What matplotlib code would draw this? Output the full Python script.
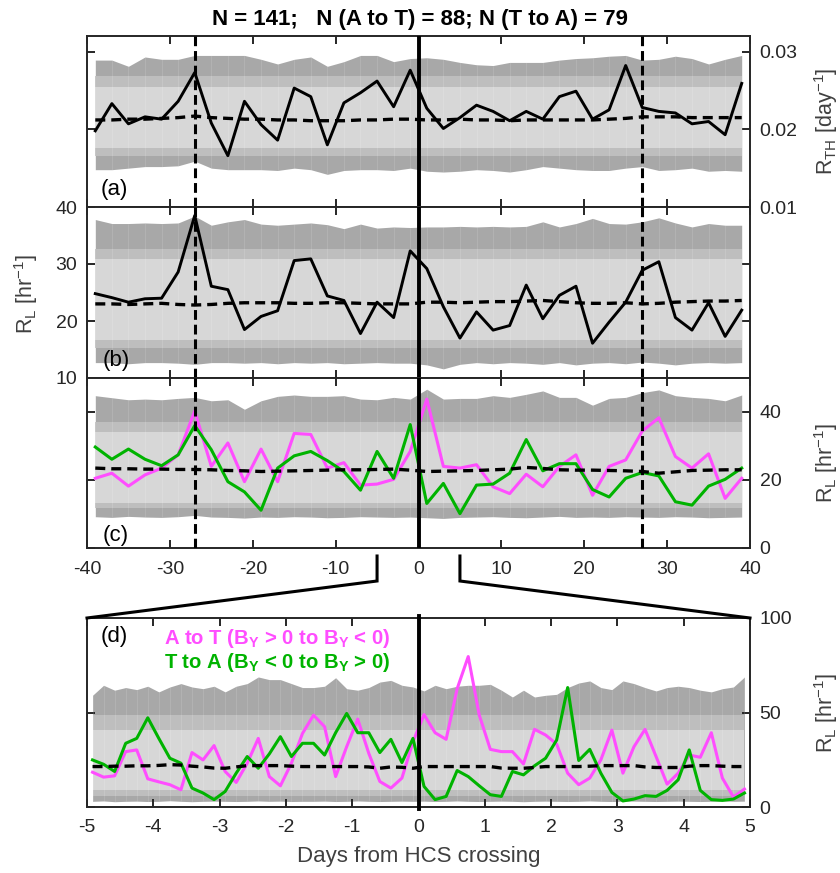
import numpy as np
import matplotlib
matplotlib.use("Agg")
import matplotlib.pyplot as plt
from matplotlib.lines import Line2D

plt.rcParams['font.family'] = ['Liberation Sans', 'DejaVu Sans']
plt.rcParams['mathtext.fontset'] = 'custom'
plt.rcParams['mathtext.rm'] = 'Liberation Sans'
plt.rcParams['mathtext.it'] = 'Liberation Sans:italic'
plt.rcParams['mathtext.bf'] = 'Liberation Sans:bold'
plt.rcParams['axes.unicode_minus'] = False

# ---------------- data ----------------
days = np.arange(-39, 40, 2)                      # 2-day bins, panels a-c
hours = np.arange(-5 + 1/12, 5, 1/6)              # 4-hour bins, panel d

# (a) R_TH
a_line = [0.0198, 0.0233, 0.0207, 0.0216, 0.0213, 0.0236, 0.0273, 0.0208, 0.0166, 0.0236,
          0.0206, 0.0186, 0.0253, 0.0242, 0.0180, 0.0234, 0.0247, 0.0262, 0.0229, 0.0276,
          0.0227, 0.0201, 0.0215, 0.0231, 0.0223, 0.0211, 0.0223, 0.0213, 0.0242, 0.0249,
          0.0213, 0.0225, 0.0282, 0.0228, 0.0223, 0.0221, 0.0207, 0.0210, 0.0193, 0.0259]
a_mean = [0.0212, 0.0212, 0.0213, 0.0213, 0.0214, 0.0215, 0.0217, 0.0215, 0.0214, 0.0213,
          0.0213, 0.0212, 0.0212, 0.0211, 0.0211, 0.0211, 0.0212, 0.0212, 0.0213, 0.0213,
          0.0212, 0.0212, 0.0213, 0.0212, 0.0212, 0.0211, 0.0212, 0.0212, 0.0212, 0.0212,
          0.0212, 0.0213, 0.0214, 0.0216, 0.0216, 0.0216, 0.0215, 0.0215, 0.0215, 0.0215]
a_top = [0.0289, 0.0289, 0.0281, 0.0293, 0.0290, 0.0290, 0.0295, 0.0295, 0.0295, 0.0295,
         0.0290, 0.0284, 0.0290, 0.0293, 0.0281, 0.0287, 0.0295, 0.0295, 0.0287, 0.0291,
         0.0292, 0.0290, 0.0286, 0.0283, 0.0282, 0.0286, 0.0286, 0.0286, 0.0289, 0.0291,
         0.0292, 0.0294, 0.0295, 0.0289, 0.0290, 0.0294, 0.0291, 0.0284, 0.0290, 0.0295]
a_bot = [0.0148, 0.0148, 0.0150, 0.0152, 0.0152, 0.0153, 0.0159, 0.0150, 0.0148, 0.0148,
         0.0148, 0.0147, 0.0150, 0.0148, 0.0142, 0.0147, 0.0148, 0.0148, 0.0147, 0.0150,
         0.0146, 0.0145, 0.0146, 0.0148, 0.0147, 0.0145, 0.0148, 0.0152, 0.0150, 0.0148,
         0.0147, 0.0147, 0.0150, 0.0152, 0.0147, 0.0148, 0.0150, 0.0146, 0.0147, 0.0146]
a_levels = [0.0268, 0.0255, 0.0176, 0.0165]

# (b) R_L all crossings
b_line = [24.8, 24.1, 23.3, 23.9, 24.0, 28.6, 38.5, 26.1, 25.5, 18.5,
          20.8, 21.8, 30.6, 30.9, 24.4, 23.6, 17.8, 23.3, 20.6, 32.3,
          29.2, 22.5, 17.0, 21.6, 18.4, 19.2, 26.3, 20.4, 24.5, 26.1,
          16.1, 19.8, 23.3, 28.9, 30.4, 20.6, 18.4, 23.2, 17.3, 21.9]
b_mean = [23.0, 23.0, 22.9, 23.0, 23.1, 22.9, 22.8, 22.9, 23.1, 23.2,
          23.2, 23.2, 23.1, 23.1, 23.2, 23.2, 23.1, 23.0, 23.0, 23.0,
          23.3, 23.3, 23.2, 23.3, 23.4, 23.4, 23.5, 23.6, 23.4, 23.2,
          23.1, 23.1, 23.2, 23.0, 23.1, 23.3, 23.4, 23.5, 23.5, 23.6]
b_top = [37.8, 37.1, 37.1, 37.2, 37.1, 37.2, 38.4, 36.8, 37.4, 37.8,
         37.0, 36.8, 37.0, 37.2, 36.9, 36.2, 37.0, 36.3, 36.5, 36.4,
         36.5, 36.5, 36.6, 36.5, 36.6, 36.5, 36.6, 37.4, 36.5, 37.1,
         38.0, 37.1, 37.0, 37.4, 38.1, 37.2, 36.5, 37.1, 36.8, 36.8]
b_bot = [12.7, 12.7, 12.5, 12.7, 12.7, 12.6, 12.4, 12.7, 12.7, 12.6,
         12.7, 12.5, 12.7, 12.6, 12.7, 12.5, 12.6, 12.7, 12.6, 12.6,
         12.3, 11.6, 12.4, 12.7, 12.5, 12.7, 12.6, 12.4, 12.7, 12.3,
         12.6, 12.7, 12.5, 12.8, 12.6, 12.3, 12.6, 12.7, 12.6, 12.7]
b_levels = [32.7, 30.9, 16.7, 15.3]

# (c) R_L split by crossing direction
c_atot = [20.5, 22.0, 18.2, 21.5, 23.5, 27.4, 40.3, 24.0, 30.9, 19.5,
          29.1, 19.5, 33.7, 33.4, 23.5, 25.1, 18.5, 18.8, 20.2, 28.4,
          43.8, 24.0, 23.5, 24.5, 18.0, 16.0, 21.7, 18.0, 24.0, 27.4,
          15.5, 24.0, 25.9, 34.4, 38.3, 26.9, 23.5, 27.7, 14.6, 20.5]
c_ttoa = [29.7, 26.1, 29.1, 26.1, 24.2, 27.4, 36.0, 28.9, 19.5, 16.5,
          11.1, 23.5, 27.1, 28.4, 25.7, 22.5, 17.0, 28.4, 20.5, 36.3,
          13.1, 19.0, 10.1, 18.5, 18.8, 22.0, 31.9, 22.7, 24.8, 24.8,
          17.2, 15.0, 20.5, 22.2, 21.2, 13.6, 12.6, 18.2, 20.2, 23.5]
c_mean = [23.5, 23.3, 23.3, 23.2, 23.2, 23.1, 23.1, 23.0, 22.8, 22.7,
          22.5, 22.6, 22.7, 22.8, 22.9, 23.0, 23.0, 23.1, 23.2, 22.9,
          22.5, 22.6, 22.7, 22.8, 23.0, 23.2, 23.7, 23.4, 23.0, 22.9,
          22.9, 22.8, 22.7, 22.5, 22.0, 22.4, 22.8, 22.9, 23.0, 23.0]
c_top = [44.8, 44.2, 43.6, 43.8, 43.6, 44.0, 44.3, 43.3, 43.6, 40.8,
         43.3, 44.6, 45.0, 44.6, 44.6, 44.8, 43.8, 43.6, 44.3, 43.8,
         46.7, 43.8, 44.0, 44.0, 44.8, 44.3, 45.2, 46.2, 44.3, 44.3,
         42.0, 44.0, 44.3, 45.7, 46.5, 44.8, 44.3, 44.0, 43.3, 45.0]
c_bot = [9.2, 9.0, 9.3, 9.1, 9.0, 9.2, 9.6, 9.1, 9.0, 8.8,
         9.1, 9.0, 9.2, 9.1, 8.9, 9.0, 9.2, 9.1, 9.0, 9.1,
         8.9, 8.7, 9.0, 9.1, 9.2, 9.0, 8.9, 9.1, 9.3, 9.0,
         9.1, 9.0, 9.2, 9.1, 9.0, 9.2, 9.1, 8.9, 9.0, 9.1]
c_levels = [37.0, 34.0, 13.2, 11.8]

# (d) zoom on +-5 days, 4-hour bins
d_atot = [18.4, 15.8, 16.5, 29.3, 30.2, 14.9, 13.3, 11.8, 9.1, 28.8,
          24.9, 32.5, 18.8, 13.0, 23.2, 36.3, 16.1, 11.2, 23.2, 38.9,
          48.6, 42.5, 16.1, 31.9, 46.5, 28.4, 13.5, 10.0, 15.3, 34.5,
          48.9, 39.3, 35.8, 62.6, 79.6, 48.6, 30.5, 29.3, 29.3, 22.8,
          41.1, 38.1, 33.3, 17.9, 11.8, 15.3, 24.9, 40.7, 17.9, 31.9,
          41.1, 26.7, 12.1, 17.9, 27.5, 26.3, 39.3, 15.3, 5.3, 9.5]
d_ttoa = [24.9, 22.6, 18.8, 33.7, 36.3, 47.2, 36.3, 25.8, 23.2, 10.0,
          7.4, 3.9, 8.2, 17.9, 26.7, 20.5, 28.1, 37.2, 26.7, 33.7,
          33.7, 27.5, 39.3, 49.5, 39.3, 39.3, 28.8, 35.8, 23.5, 36.3,
          10.9, 3.9, 5.6, 19.3, 16.1, 11.2, 6.5, 5.6, 18.8, 17.0,
          21.8, 25.8, 35.4, 63.2, 24.6, 30.5, 17.9, 7.7, 3.2, 4.2,
          6.0, 5.6, 8.8, 14.4, 30.2, 8.8, 3.9, 3.5, 4.2, 7.4]
d_mean = [21.4, 21.4, 21.6, 21.6, 21.8, 21.8, 22.0, 22.4, 22.2, 21.6,
          21.2, 20.6, 20.5, 21.2, 21.9, 21.9, 21.9, 21.9, 21.6, 21.4,
          21.4, 21.4, 21.4, 21.4, 21.4, 21.2, 20.5, 21.2, 21.0, 20.5,
          21.4, 21.4, 21.4, 21.4, 21.4, 21.4, 21.4, 20.6, 20.5, 20.5,
          20.9, 21.4, 21.4, 21.4, 21.4, 21.6, 21.9, 21.9, 21.9, 21.9,
          21.2, 20.9, 20.9, 20.9, 21.6, 21.9, 21.9, 21.6, 21.4, 21.4]
d_top = [59.1, 64.4, 61.8, 63.2, 62.1, 63.9, 60.9, 63.5, 65.3, 63.5,
         62.6, 63.9, 60.9, 63.9, 65.3, 68.8, 67.4, 67.4, 65.3, 63.2,
         63.2, 63.9, 68.4, 62.6, 61.8, 63.2, 66.1, 67.0, 64.4, 63.5,
         61.4, 64.4, 62.6, 63.9, 64.4, 64.4, 64.9, 61.8, 58.2, 61.8,
         58.2, 59.1, 59.6, 63.2, 65.6, 66.7, 63.2, 62.1, 66.7, 65.3,
         63.2, 61.4, 63.2, 63.9, 63.2, 61.8, 60.9, 62.6, 63.5, 68.8]
d_bot = [3.0, 3.2, 2.8, 3.0, 3.1, 2.9, 3.0, 3.3, 3.0, 2.8,
         3.0, 3.1, 3.0, 2.9, 3.0, 3.2, 3.0, 3.1, 2.9, 3.0,
         3.0, 3.1, 2.9, 3.0, 3.2, 3.0, 2.9, 3.0, 3.1, 3.0,
         3.1, 2.9, 3.0, 3.2, 3.0, 2.9, 3.0, 3.1, 3.0, 2.8,
         3.0, 3.1, 3.0, 2.9, 3.0, 3.2, 3.0, 2.9, 3.0, 3.1,
         3.0, 2.9, 3.0, 3.1, 3.0, 2.9, 3.0, 3.2, 3.0, 3.1]
d_levels = [48.5, 41.0, 9.0, 6.0]

title = 'N = 141;   N (A to T) = 88; N (T to A) = 79'
atot_label = r'A to T (B$_\mathbf{Y}$ > 0 to B$_\mathbf{Y}$ < 0)'
ttoa_label = r'T to A (B$_\mathbf{Y}$ < 0 to B$_\mathbf{Y}$ > 0)'

# ---------------- style ----------------
DARK, MID, LIGHT = '#a8a8a8', '#bebebe', '#d7d7d7'
PINK, GREEN = '#ff4dff', '#00b300'
AXC = '#262626'
FS = 14

W, H = 840, 873
L, R = 87, 750


def box(top, bottom):
    return [L / W, 1 - bottom / H, (R - L) / W, (bottom - top) / H]


def bands(ax, x, top, bot, levels):
    hi2, hi1, lo1, lo2 = levels
    ax.fill_between(x, bot, top, color=DARK, lw=0)
    ax.fill_between(x, lo2, hi2, color=MID, lw=0)
    ax.fill_between(x, lo1, hi1, color=LIGHT, lw=0)
    ax.vlines(x, bot, top, color='white', lw=0.5, alpha=0.18)


def style(ax):
    for s in ax.spines.values():
        s.set_color(AXC)
        s.set_linewidth(1.4)
    ax.tick_params(direction='in', length=6, width=1.4, color=AXC,
                   labelsize=FS, labelcolor=AXC, top=True, right=True,
                   bottom=True, left=True, pad=7)
    ax.tick_params(axis='x', pad=9)


fig = plt.figure(figsize=(W / 100, H / 100), dpi=100)
ax_a = fig.add_axes(box(36, 207))
ax_b = fig.add_axes(box(207, 378))
ax_c = fig.add_axes(box(378, 548))
ax_d = fig.add_axes(box(618, 807))

mean_style = dict(color='black', lw=2.4, ls=(0, (3, 1.8)), zorder=5)

# (a)
bands(ax_a, days, a_top, a_bot, a_levels)
ax_a.plot(days, a_line, color='black', lw=2.1, zorder=4)
ax_a.plot(days, a_mean, **mean_style)
ax_a.set_ylim(0.01, 0.032)
ax_a.set_yticks([0.01, 0.02, 0.03])
ax_a.yaxis.set_major_formatter(matplotlib.ticker.FormatStrFormatter('%.2f'))

# (b)
bands(ax_b, days, b_top, b_bot, b_levels)
ax_b.plot(days, b_line, color='black', lw=2.1, zorder=4)
ax_b.plot(days, b_mean, **mean_style)
ax_b.set_ylim(10, 40)
ax_b.set_yticks([10, 20, 30, 40])

# (c)
bands(ax_c, days, c_top, c_bot, c_levels)
ax_c.plot(days, c_atot, color=PINK, lw=2.2, zorder=4)
ax_c.plot(days, c_ttoa, color=GREEN, lw=2.2, zorder=4)
ax_c.plot(days, c_mean, **mean_style)
ax_c.set_ylim(0, 50)
ax_c.set_yticks([0, 20, 40])

for ax in (ax_a, ax_b, ax_c):
    ax.set_xlim(-40, 40)
    ax.set_xticks(np.arange(-40, 41, 10))
    for xv in (-27, 27):
        ax.axvline(xv, color='black', lw=2.2, ls=(0, (3.2, 1.6)), zorder=6)
    ax.axvline(0, color='black', lw=2.8, zorder=6)
    style(ax)

# (d)
bands(ax_d, hours, d_top, d_bot, d_levels)
ax_d.plot(hours, d_atot, color=PINK, lw=2.2, zorder=4)
ax_d.plot(hours, d_ttoa, color=GREEN, lw=2.2, zorder=4)
ax_d.plot(hours, d_mean, **mean_style)
ax_d.axvline(0, color='black', lw=2.8, zorder=6, clip_on=False, ymin=-0.01, ymax=1.01)
ax_d.set_xlim(-5, 5)
ax_d.set_ylim(0, 100)
ax_d.set_xticks(np.arange(-5, 6, 1))
ax_d.set_yticks([0, 50, 100])
style(ax_d)
ax_d.set_xlabel('Days from HCS crossing', fontsize=16, color='#404040', labelpad=7)
ax_d.text(-2.14, 86.5, atot_label, color=PINK, fontsize=14.6, fontweight='bold',
          ha='center', va='baseline')
ax_d.text(-2.14, 73.5, ttoa_label, color=GREEN, fontsize=14.6, fontweight='bold',
          ha='center', va='baseline')

# tick label sides
ax_a.tick_params(labelbottom=False, labelleft=False, labelright=True)
ax_b.tick_params(labelbottom=False, labelleft=True, labelright=False)
ax_c.tick_params(labelbottom=True, labelleft=False, labelright=True)
ax_d.tick_params(labelbottom=True, labelleft=False, labelright=True)

# y labels
lab = dict(fontsize=15.5, color='#404040')
ax_a.yaxis.set_label_position('right')
ax_a.set_ylabel(r'R$_\mathrm{TH}$ [day$^{-1}$]', **lab)
ax_a.yaxis.set_label_coords(1.093, 0.5)
ax_b.set_ylabel(r'R$_\mathrm{L}$ [hr$^{-1}$]', **lab)
ax_b.yaxis.set_label_coords(-0.071, 0.49)
for ax in (ax_c, ax_d):
    ax.yaxis.set_label_position('right')
    ax.set_ylabel(r'R$_\mathrm{L}$ [hr$^{-1}$]', **lab)
    ax.yaxis.set_label_coords(1.093, 0.5)

# panel tags
ax_a.text(0.02, 0.04, '(a)', transform=ax_a.transAxes, fontsize=16, va='bottom')
ax_b.text(0.024, 0.04, '(b)', transform=ax_b.transAxes, fontsize=16, va='bottom')
ax_c.text(0.024, 0.01, '(c)', transform=ax_c.transAxes, fontsize=16, va='bottom')
ax_d.text(0.02, 0.96, '(d)', transform=ax_d.transAxes, fontsize=16, va='top')

fig.text(0.5, 1 - 19 / H, title, fontsize=16, fontweight='bold',
         ha='center', va='center')

# zoom connectors from (c) to (d)
def fx(px):
    return px / W


def fy(py):
    return 1 - py / H


xl = L + (R - L) * 35 / 80
xr = L + (R - L) * 45 / 80
for xs, xe in ((xl, L), (xr, R)):
    fig.add_artist(Line2D([fx(xs), fx(xs), fx(xe)], [fy(556), fy(581), fy(618)],
                          transform=fig.transFigure, color='black', lw=2.2,
                          solid_joinstyle='miter'))

fig.savefig('out.png', dpi=100)
